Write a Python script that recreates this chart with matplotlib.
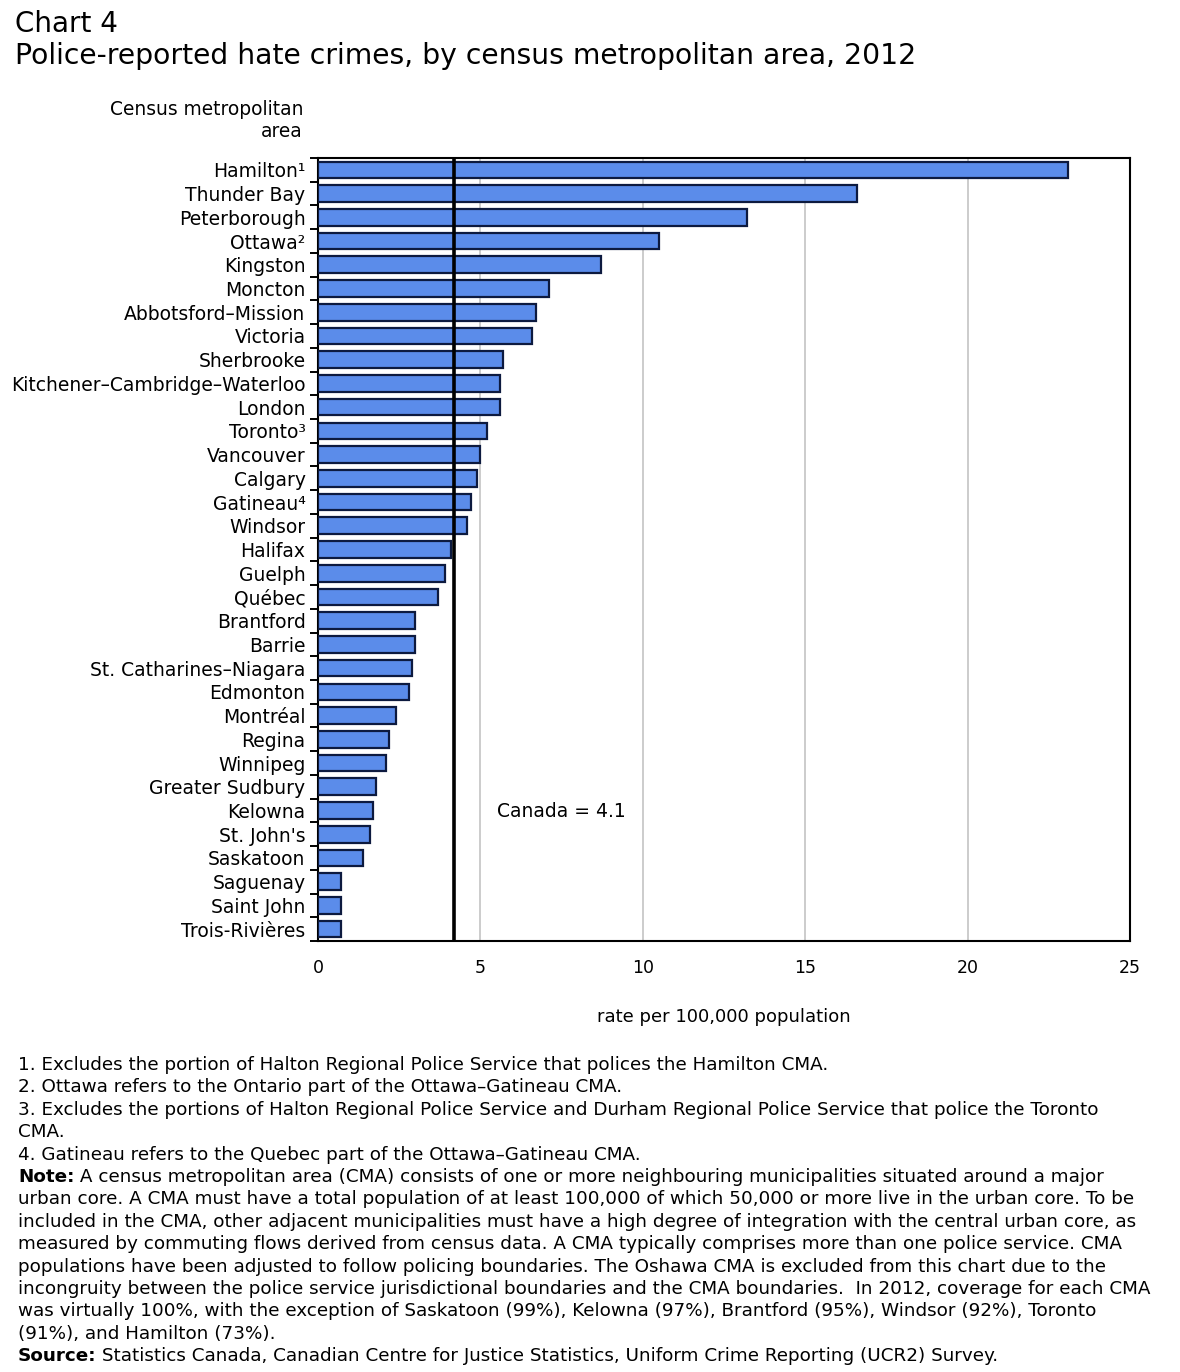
import matplotlib
matplotlib.use("Agg")
import matplotlib.pyplot as plt
import numpy as np

# data (rate per 100,000 population)
areas = ["Hamilton¹", "Thunder Bay", "Peterborough", "Ottawa²", "Kingston", "Moncton",
         "Abbotsford–Mission", "Victoria", "Sherbrooke", "Kitchener–Cambridge–Waterloo",
         "London", "Toronto³", "Vancouver", "Calgary", "Gatineau⁴", "Windsor", "Halifax",
         "Guelph", "Québec", "Brantford", "Barrie", "St. Catharines–Niagara", "Edmonton",
         "Montréal", "Regina", "Winnipeg", "Greater Sudbury", "Kelowna", "St. John's",
         "Saskatoon", "Saguenay", "Saint John", "Trois-Rivières"]
rates = [23.1, 16.6, 13.2, 10.5, 8.7, 7.1, 6.7, 6.6, 5.7, 5.6, 5.6, 5.2, 5.0, 4.9, 4.7,
         4.6, 4.1, 3.9, 3.7, 3.0, 3.0, 2.9, 2.8, 2.4, 2.2, 2.1, 1.8, 1.7, 1.6, 1.4, 0.7,
         0.7, 0.7]
x_ticks = [0, 5, 10, 15, 20, 25]
canada_line = 4.2
canada_label = "Canada = 4.1"

title1 = "Chart 4"
title2 = "Police-reported hate crimes, by census metropolitan area, 2012"
y_title = "Census metropolitan\narea"
x_title = "rate per 100,000 population"

# (bold lead-in, rest of line)
footnotes = [
    ("", "1. Excludes the portion of Halton Regional Police Service that polices the Hamilton CMA."),
    ("", "2. Ottawa refers to the Ontario part of the Ottawa–Gatineau CMA."),
    ("", "3. Excludes the portions of Halton Regional Police Service and Durham Regional Police Service that police the Toronto"),
    ("", "CMA."),
    ("", "4. Gatineau refers to the Quebec part of the Ottawa–Gatineau CMA."),
    ("Note:", " A census metropolitan area (CMA) consists of one or more neighbouring municipalities situated around a major"),
    ("", "urban core. A CMA must have a total population of at least 100,000 of which 50,000 or more live in the urban core. To be"),
    ("", "included in the CMA, other adjacent municipalities must have a high degree of integration with the central urban core, as"),
    ("", "measured by commuting flows derived from census data. A CMA typically comprises more than one police service. CMA"),
    ("", "populations have been adjusted to follow policing boundaries. The Oshawa CMA is excluded from this chart due to the"),
    ("", "incongruity between the police service jurisdictional boundaries and the CMA boundaries.  In 2012, coverage for each CMA"),
    ("", "was virtually 100%, with the exception of Saskatoon (99%), Kelowna (97%), Brantford (95%), Windsor (92%), Toronto"),
    ("", "(91%), and Hamilton (73%)."),
    ("Source:", " Statistics Canada, Canadian Centre for Justice Statistics, Uniform Crime Reporting (UCR2) Survey."),
]

plt.rcParams['font.family'] = ['DejaVu Sans']

W, H = 1180, 1372
fig = plt.figure(figsize=(W / 100, H / 100), dpi=100)
ax = fig.add_axes([318 / W, 1 - 941 / H, (1130 - 318) / W, (941 - 158) / H])

y = np.arange(len(areas))
ax.barh(y, rates, height=0.7, color="#5b8cea", edgecolor="#0d1a3f", linewidth=1.6, zorder=3)
ax.set_ylim(len(areas) - 0.5, -0.5)
ax.set_xlim(x_ticks[0], x_ticks[-1])

ax.set_xticks(x_ticks)
ax.set_xticklabels([str(t) for t in x_ticks], fontsize=12.5)
ax.tick_params(axis="x", length=0, pad=13)
ax.xaxis.grid(True, color="#c4c4c4", linewidth=1.2, zorder=0)

ax.set_yticks(y)
ax.set_yticklabels(areas, fontsize=13.5)
ax.tick_params(axis="y", which="major", length=0, pad=9)
ax.set_yticks(np.arange(len(areas) + 1) - 0.5, minor=True)
ax.tick_params(axis="y", which="minor", length=6, width=1.4, direction="out")

for s in ax.spines.values():
    s.set_linewidth(1.5)
    s.set_color("black")

ax.axvline(canada_line, color="black", linewidth=2.6, zorder=4)
ax.text(5.5, 27.05, canada_label, fontsize=13.5, va="center", ha="left", zorder=5,
        bbox=dict(facecolor="white", edgecolor="none", pad=10))

ax.set_xlabel(x_title, fontsize=13, labelpad=22)

fig.text(303 / W, 1 - 100 / H, y_title, fontsize=13.4, ha="right", va="top",
         multialignment="right", linespacing=1.2)

fig.text(15 / W, 1 - 24 / H, title1, fontsize=20, ha="left", va="center")
fig.text(15 / W, 1 - 56 / H, title2, fontsize=20.3, ha="left", va="center")

renderer = fig.canvas.get_renderer()
for i, (lead, rest) in enumerate(footnotes):
    yy = 1 - (1065 + i * 22.4) / H
    x0 = 18 / W
    if lead:
        t = fig.text(x0, yy, lead, fontsize=13.2, fontweight="bold", ha="left", va="center")
        bb = t.get_window_extent(renderer)
        x0 = bb.x1 / (W)
    fig.text(x0, yy, rest, fontsize=13.2, ha="left", va="center")

fig.savefig("out.png", dpi=100, facecolor="white")
